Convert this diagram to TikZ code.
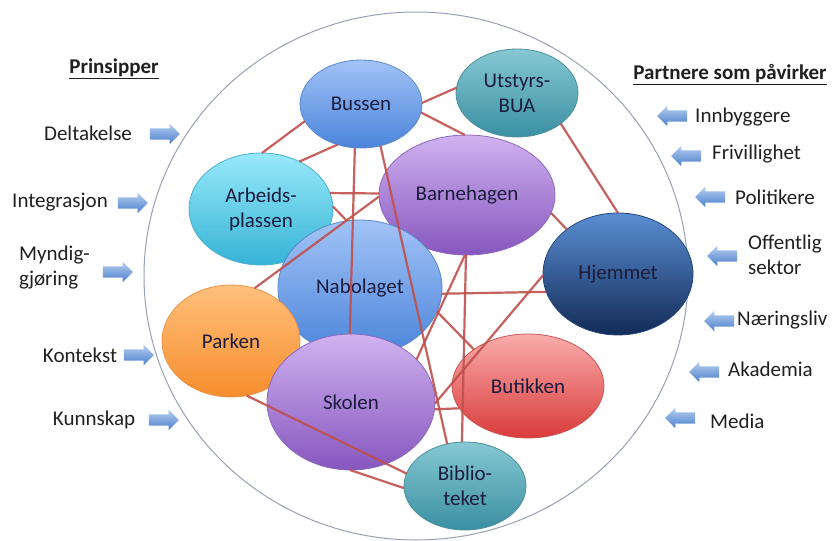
\documentclass[tikz,border=0pt]{standalone}
\usepackage{fontspec}
\setmainfont{Carlito}
\usetikzlibrary{shapes.geometric,shapes.arrows}

% bubble shadings
\definecolor{blueT}{HTML}{A2C3F6}\definecolor{blueB}{HTML}{4A84DA}\definecolor{blueD}{HTML}{5A88CC}
\definecolor{tealT}{HTML}{86C8D3}\definecolor{tealB}{HTML}{3A8FA2}\definecolor{tealD}{HTML}{4A8F9C}
\definecolor{purpT}{HTML}{D0B2F0}\definecolor{purpB}{HTML}{8657BE}\definecolor{purpD}{HTML}{8D68BD}
\definecolor{cyanT}{HTML}{98E9FA}\definecolor{cyanB}{HTML}{36B3D6}\definecolor{cyanD}{HTML}{4AAFCB}
\definecolor{navyT}{HTML}{5A8ED2}\definecolor{navyB}{HTML}{132B57}\definecolor{navyD}{HTML}{24477A}
\definecolor{orngT}{HTML}{FFC07C}\definecolor{orngB}{HTML}{F68D2C}\definecolor{orngD}{HTML}{E99447}
\definecolor{redT}{HTML}{F9ACAA}\definecolor{redB}{HTML}{D93B3B}\definecolor{redD}{HTML}{CC5555}
% arrows, links, text
\definecolor{arrT}{HTML}{B3CDF0}\definecolor{arrB}{HTML}{4C80CC}
\definecolor{linkcol}{HTML}{C0504D}
\definecolor{ringcol}{HTML}{98A1B4}
\definecolor{bubtext}{HTML}{1C1C3E}
\definecolor{sidetext}{HTML}{202020}

\tikzset{
  bigfont/.style={font=\fontsize{21}{25}\selectfont},
  bub/.style={ellipse, inner sep=0pt, outer sep=0pt, line width=0.8pt,
    align=center, bigfont, text=bubtext},
  bluebub/.style={top color=blueT, bottom color=blueB, draw=blueD},
  tealbub/.style={top color=tealT, bottom color=tealB, draw=tealD},
  purpbub/.style={top color=purpT, bottom color=purpB, draw=purpD},
  cyanbub/.style={top color=cyanT, bottom color=cyanB, draw=cyanD},
  navybub/.style={top color=navyT, bottom color=navyB, draw=navyD},
  orngbub/.style={top color=orngT, bottom color=orngB, draw=orngD},
  redbub/.style={top color=redT, bottom color=redB, draw=redD},
  link/.style={draw=linkcol, line width=2.2pt, opacity=0.9},
  sidelbl/.style={bigfont, text=sidetext, inner sep=0pt, align=left},
  header/.style={font=\fontsize{21}{25}\selectfont\bfseries, text=sidetext, inner sep=0pt},
  blockarrow/.style={single arrow, draw=none, top color=arrT, bottom color=arrB,
    minimum height=30pt, minimum width=20pt, inner sep=5.5pt,
    single arrow head extend=4.5pt, single arrow head indent=0pt},
  inarrow/.style={blockarrow, shape border rotate=0},
  outarrow/.style={blockarrow, shape border rotate=180},
}

\begin{document}
\begin{tikzpicture}[x=1pt, y=-1pt]
\useasboundingbox[fill=white] (0,0) rectangle (834,540);

% outer ring
\draw[ringcol, line width=1pt] (416,276) ellipse [x radius=272pt, y radius=264pt];

% headers
\node[header] (prins) at (114,69) {\underline{Prinsipper}};
\node[header] (partn) at (730,75) {\underline{Partnere som påvirker}};

% principles (left)
\node[sidelbl] (delt) at (88,133) {Deltakelse};
\node[inarrow] (adelt) at (162,134) {};
\node[sidelbl] (integ) at (60,202) {Integrasjon};
\node[inarrow] (ainteg) at (130,203) {};
\node[sidelbl, anchor=west] (myndig) at (19,268) {Myndig-\\gjøring};
\node[inarrow] (amyndig) at (115,272) {};
\node[sidelbl] (kontekst) at (80,355) {Kontekst};
\node[inarrow] (akontekst) at (136,355) {};
\node[sidelbl] (kunn) at (94,420) {Kunnskap};
\node[inarrow] (akunn) at (161,420) {};

% partners (right)
\node[outarrow] (ainnb) at (675,116) {};
\node[sidelbl, anchor=west] (innb) at (695,117) {Innbyggere};
\node[outarrow] (afriv) at (689,156) {};
\node[sidelbl, anchor=west] (friv) at (712,154) {Frivillighet};
\node[outarrow] (apol) at (713,197) {};
\node[sidelbl, anchor=west] (pol) at (735,197) {Politikere};
\node[outarrow] (aoff) at (725,256) {};
\node[sidelbl, anchor=west] (off) at (748,255) {Offentlig\\sektor};
\node[outarrow] (naer0) at (722,321) {};
\node[sidelbl, anchor=west] (naer) at (737,320) {Næringsliv};
\node[outarrow] (aakad) at (707,372) {};
\node[sidelbl, anchor=west] (akad) at (728,369) {Akademia};
\node[outarrow] (amedia) at (683,418) {};
\node[sidelbl, anchor=west] (media) at (710,421) {Media};

% arenas
\node[bub, bluebub, minimum width=122pt, minimum height=88pt]  (bussen) at (361,104) {Bussen};
\node[bub, tealbub, minimum width=122pt, minimum height=88pt]  (utstyr) at (517,93)  {Utstyrs-\\BUA};
\node[bub, purpbub, minimum width=176pt, minimum height=120pt] (barne)  at (467,195) {Barnehagen};
\node[bub, cyanbub, minimum width=144pt, minimum height=112pt] (arbeid) at (261,209) {Arbeids-\\plassen};
\node[bub, bluebub, minimum width=164pt, minimum height=136pt] (nabo)   at (360,288) {Nabolaget};
\node[bub, navybub, minimum width=150pt, minimum height=122pt] (hjem)   at (618,274) {Hjemmet};
\node[bub, orngbub, minimum width=138pt, minimum height=112pt] (parken) at (231,341) {Parken};
\node[bub, purpbub, minimum width=168pt, minimum height=136pt] (skolen) at (351,402) {Skolen};
\node[bub, redbub,  minimum width=152pt, minimum height=104pt] (butikk) at (528,386) {Butikken};
\node[bub, tealbub, minimum width=122pt, minimum height=88pt]  (biblio) at (465,486) {Biblio-\\teket};

% links between arenas
\draw[link] (bussen.1)   -- (utstyr.175);
\draw[link] (bussen.352) -- (barne.92);
\draw[link] (arbeid.89)  -- (bussen.197);
\draw[link] (arbeid.51)  -- (bussen.240);
\draw[link] (arbeid.13)  -- (barne.179);
\draw[link] (arbeid.2)   -- (nabo.101);
\draw[link] (barne.181)  -- (parken.66);
\draw[link] (bussen.262) -- (skolen.91);
\draw[link] (bussen.295) -- (biblio.113);
\draw[link] (barne.269)  -- (biblio.94);
\draw[link] (barne.268)  -- (skolen.33);
\draw[link] (nabo.356)   -- (hjem.194);
\draw[link] (nabo.343)   -- (butikk.146);
\draw[link] (hjem.181)   -- (skolen.359);
\draw[link] (skolen.355) -- (butikk.198);
\draw[link] (utstyr.325) -- (hjem.90);
\draw[link] (barne.348)  -- (hjem.139);
\draw[link] (parken.286) -- (biblio.168);
\draw[link] (skolen.269) -- (biblio.182);
\end{tikzpicture}
\end{document}
